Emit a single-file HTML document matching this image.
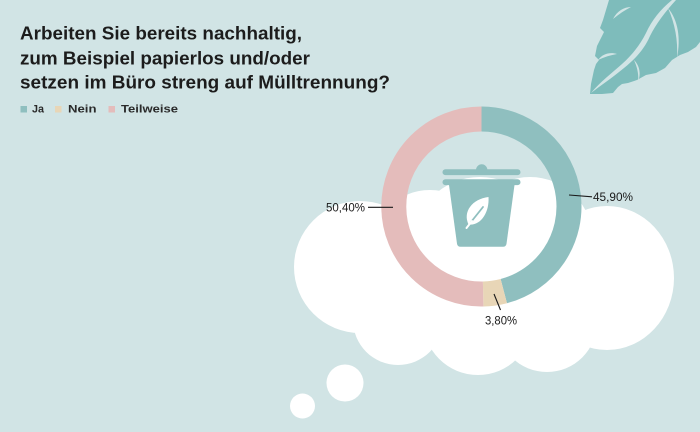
<!DOCTYPE html>
<html><head><meta charset="utf-8"><style>
html,body{margin:0;padding:0;background:#d1e4e5;}
svg{display:block;}
</style></head><body>
<svg width="700" height="432" viewBox="0 0 700 432" xmlns="http://www.w3.org/2000/svg">
<rect width="700" height="432" fill="#d1e4e5"/>
<!-- top right leaf -->
<g>
<path d="M590,94 L591,84 L594,70 L596,64 L599,60 L595,56 L597,46 L601,38 L604,32 L600,28 L603,20 L606,10 L609,0 L700,0 L700,42 L696,47 L688,52 L680,55 L672,60 L665,68 L656,73 L646,75 L637,80 L628,83 L622,84 L618,87 L613,93 L602,94 Z" fill="#7ebcbb"/>
<path d="M591,93 C600,82 612,73 622,64 C632,55 640,45 646,33 C652,20 660,10 672,0 L676,0 C665,12 656,24 650,36 C644,50 634,60 624,68 C612,78 600,86 591,93 Z" fill="#d1e4e5"/>
<path d="M613,19 C617,11 624,7 631,7 C625,10 619,14 613,19 Z" fill="#d1e4e5"/>
<path d="M598,60 C603,53 611,52 617,54 C611,55 604,57 598,60 Z" fill="#d1e4e5"/>
<path d="M634,60 C640,66 641,74 638,82 C639,74 637,67 634,60 Z" fill="#d1e4e5"/>
<path d="M668,8 C678,20 681,38 677,58 C678,40 675,24 668,8 Z" fill="#d1e4e5"/>
</g>
<!-- cloud -->
<g fill="#ffffff">
<circle cx="360" cy="267" r="66"/>
<circle cx="430" cy="250" r="60"/>
<circle cx="480" cy="245" r="68"/>
<circle cx="530" cy="240" r="63"/>
<ellipse cx="607" cy="278" rx="67" ry="72"/>
<circle cx="398" cy="320" r="45"/>
<circle cx="478" cy="320" r="55"/>
<circle cx="547" cy="322" r="50"/>
<ellipse cx="480" cy="285" rx="150" ry="65"/>
<circle cx="345" cy="383" r="18.5"/>
<circle cx="302.5" cy="406" r="12.5"/>
</g>
<!-- donut -->
<g fill="none" stroke-width="25">
<path d="M481.5,119 A87.5,87.5 0 0 1 503.79,291.11" stroke="#8fbfbf"/>
<path d="M503.79,291.11 A87.5,87.5 0 0 1 483.15,293.98" stroke="#e8d6b7"/>
<path d="M483.15,293.98 A87.5,87.5 0 1 1 481.5,119" stroke="#e4bcbb"/>
</g>
<!-- bin icon -->
<g fill="#8fbfbf">
<path d="M476,170 A5.7,5.7 0 0 1 487.4,170 Z"/>
<rect x="442.5" y="169.3" width="78" height="5.8" rx="2.9"/>
<rect x="442.5" y="179.3" width="78" height="5.8" rx="2.9"/>
<path d="M449,185 L514.5,185 L506.5,243.7 Q506,246.7 503,246.7 L460.5,246.7 Q457.5,246.7 457,243.7 Z"/>
</g>
<path d="M468.5,224.5 C462.5,212 472,199 488.5,197 C489.5,212 481,226 468.5,224.5 Z" fill="#ffffff"/>
<line x1="471" y1="222" x2="483" y2="207" stroke="#8fbfbf" stroke-width="1.8" stroke-linecap="round"/>
<line x1="466.5" y1="228" x2="472" y2="221" stroke="#ffffff" stroke-width="2" stroke-linecap="round"/>
<!-- leader lines -->
<g stroke="#1a1a1a" stroke-width="1.1">
<line x1="569" y1="195" x2="592" y2="196.8"/>
<line x1="494" y1="294" x2="500.5" y2="310"/>
<line x1="368" y1="207.3" x2="393" y2="207.3"/>
</g>
<g font-family="'Liberation Sans', sans-serif" font-size="11.5" fill="#1a1a1a">
<text x="593" y="201" textLength="40" lengthAdjust="spacingAndGlyphs">45,90%</text>
<text x="485" y="324.5" textLength="32" lengthAdjust="spacingAndGlyphs">3,80%</text>
<text x="326" y="211.7" textLength="39" lengthAdjust="spacingAndGlyphs">50,40%</text>
</g>
<!-- title -->
<g font-family="'Liberation Sans', sans-serif" font-weight="bold" font-size="18" fill="#1c1c1c">
<text x="20" y="39.3" textLength="282" lengthAdjust="spacingAndGlyphs">Arbeiten Sie bereits nachhaltig,</text>
<text x="20" y="64.3" textLength="290" lengthAdjust="spacingAndGlyphs">zum Beispiel papierlos und/oder</text>
<text x="20" y="88.5" textLength="370" lengthAdjust="spacingAndGlyphs">setzen im Büro streng auf Mülltrennung?</text>
</g>
<!-- legend -->
<rect x="20.5" y="106" width="6.5" height="6.5" fill="#8fbfbf"/>
<rect x="55" y="106" width="6.5" height="6.5" fill="#e8d6b7"/>
<rect x="108.5" y="106" width="6.5" height="6.5" fill="#e4bcbb"/>
<g font-family="'Liberation Sans', sans-serif" font-weight="bold" font-size="11" fill="#2a2a2a">
<text x="32" y="112.7" textLength="12" lengthAdjust="spacingAndGlyphs">Ja</text>
<text x="68" y="112.7" textLength="28.5" lengthAdjust="spacingAndGlyphs">Nein</text>
<text x="121" y="112.7" textLength="57" lengthAdjust="spacingAndGlyphs">Teilweise</text>
</g>
</svg>
</body></html>
